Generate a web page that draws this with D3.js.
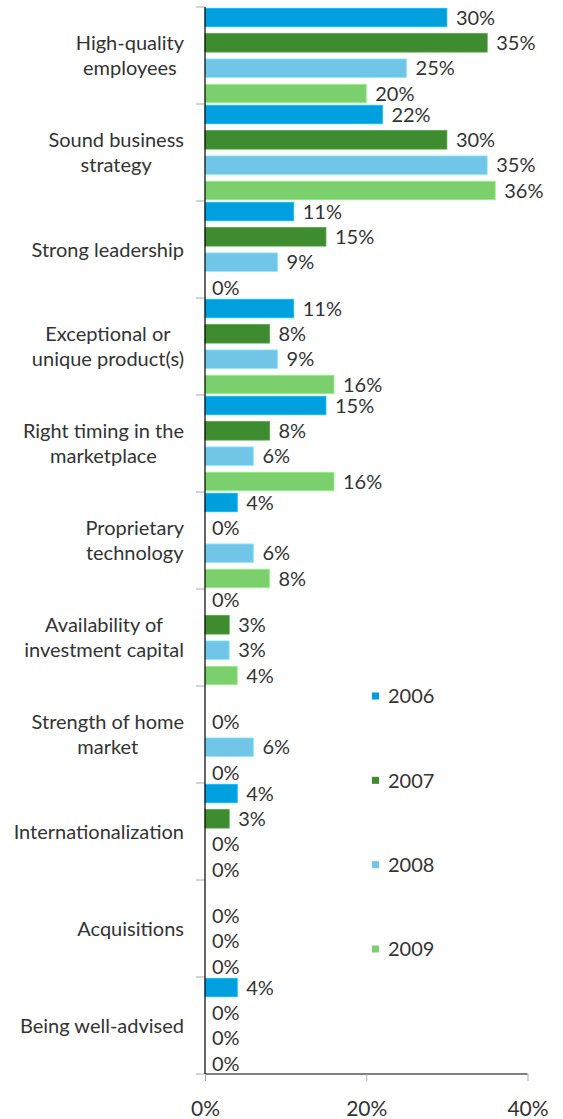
<!DOCTYPE html>
<html>
<head>
<meta charset="utf-8">
<script src="https://cdn.jsdelivr.net/npm/d3@7"></script>
<style>
  body { margin: 0; background: #fff; }
  text { font-family: Lato, "Open Sans", sans-serif; fill: #333; }
</style>
</head>
<body>
<div id="app"></div>
<script>
const categories = [
  ["High-quality", "employees"],
  ["Sound business", "strategy"],
  ["Strong leadership"],
  ["Exceptional or", "unique product(s)"],
  ["Right timing in the", "marketplace"],
  ["Proprietary", "technology"],
  ["Availability of", "investment capital"],
  ["Strength of home", "market"],
  ["Internationalization"],
  ["Acquisitions"],
  ["Being well-advised"]
];
const series = ["2006", "2007", "2008", "2009"];
const colors = ["#00a0df", "#3e8b30", "#71c6e7", "#7bcf6d"];
// null = no label shown
const v2006 = [30, 22, 11, 11, 15, 4, 0, null, 4, null, 4];
const v2007 = [35, 30, 15, 8, 8, 0, 3, 0, 3, 0, 0];
const v2008 = [25, 35, 9, 9, 6, 6, 3, 6, 0, 0, 0];
const v2009 = [20, 36, 0, 16, 16, 8, 4, 0, 0, 0, 0];
const xTicks = [0, 20, 40];

const values = [v2006, v2007, v2008, v2009];
const w = 563, h = 1119;
const fs = 20;

const svg = d3.select("#app").append("svg").attr("width", w).attr("height", h);

const x = d3.scaleLinear().domain([0, 40]).range([205, 527.5]);
const y = d3.scaleBand().domain(d3.range(categories.length)).range([7, 1074]);
const ySub = d3.scaleBand().domain(series).range([0, y.bandwidth()])
  .paddingInner(0.27).paddingOuter(0.05);

// bars + labels
categories.forEach((cat, i) => {
  const g = svg.append("g").attr("transform", `translate(0,${y(i)})`);
  series.forEach((s, j) => {
    const v = values[j][i];
    if (v === null) return;
    if (v > 0) {
      g.append("rect")
        .attr("x", x(0))
        .attr("y", ySub(s))
        .attr("width", x(v) - x(0))
        .attr("height", ySub.bandwidth())
        .attr("fill", colors[j])
        .attr("stroke", d3.color(colors[j]).brighter(0.5))
        .attr("stroke-width", 0.8);
    }
    g.append("text")
      .attr("x", x(v) + (v > 0 ? 9 : 7))
      .attr("y", ySub(s) + ySub.bandwidth() / 2)
      .attr("dy", "0.36em")
      .attr("font-size", fs)
      .text(v + "%");
  });
});

// category labels: block right-aligned, lines centered within block
const measure = svg.append("text").attr("font-size", fs);
categories.forEach((lines, i) => {
  const widths = lines.map(l => { measure.text(l); return measure.node().getComputedTextLength(); });
  const maxW = d3.max(widths);
  const cx = 184 - maxW / 2;
  const cy = y(i) + y.bandwidth() / 2;
  const lh = 25;
  const t = svg.append("text").attr("font-size", fs).attr("text-anchor", "middle");
  lines.forEach((l, k) => {
    t.append("tspan")
      .attr("x", cx)
      .attr("y", cy + (k - (lines.length - 1) / 2) * lh)
      .attr("dy", "0.36em")
      .text(l);
  });
});
measure.remove();

// category ticks
svg.selectAll(".ctick")
  .data(d3.range(categories.length + 1))
  .enter().append("line")
  .attr("x1", 196).attr("x2", 205)
  .attr("y1", d => d < categories.length ? y(d) : y.range()[1])
  .attr("y2", d => d < categories.length ? y(d) : y.range()[1])
  .attr("stroke", "#aaa").attr("stroke-width", 1);

// y axis line
svg.append("line")
  .attr("x1", x(0)).attr("x2", x(0))
  .attr("y1", 7).attr("y2", 1074)
  .attr("stroke", "#000").attr("stroke-width", 1.2);

// x axis
const xAxis = svg.append("g").attr("transform", "translate(0,1074)")
  .call(d3.axisBottom(x).tickValues(xTicks).tickFormat(d => d + "%").tickSize(7).tickPadding(20));
xAxis.select(".domain").attr("stroke", "#000").attr("stroke-width", 1.2).attr("d", `M${x(0)},0H${x(40)}`);
xAxis.selectAll(".tick line").attr("stroke", "#aaa");
xAxis.selectAll(".tick text").attr("font-size", 21).attr("font-family", null).attr("fill", "#333");

// legend
const ly = d3.scalePoint().domain(series).range([696, 949]);
series.forEach((s, j) => {
  svg.append("rect")
    .attr("x", 372).attr("y", ly(s) - 3.5)
    .attr("width", 7).attr("height", 7)
    .attr("fill", colors[j]);
  svg.append("text")
    .attr("x", 388).attr("y", ly(s))
    .attr("dy", "0.36em")
    .attr("font-size", fs)
    .text(s);
});
</script>
</body>
</html>
